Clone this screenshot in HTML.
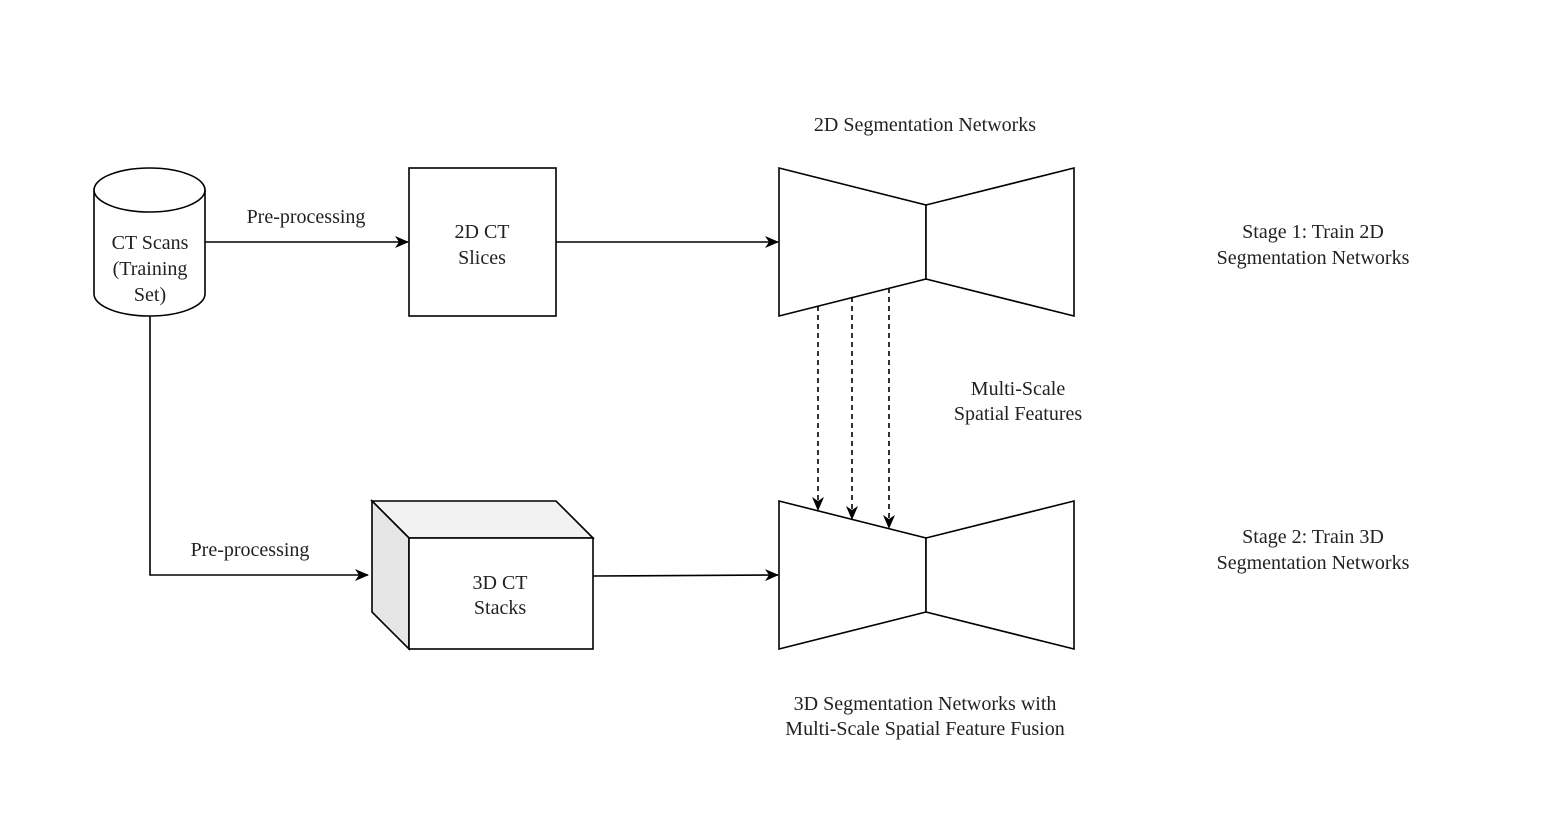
<!DOCTYPE html>
<html><head><meta charset="utf-8"><style>html,body{margin:0;padding:0;background:#fff}svg{display:block}text{font-family:"Liberation Serif",serif;font-size:20px;fill:#222;text-anchor:middle}</style></head><body>
<svg width="1556" height="836" viewBox="0 0 1556 836" xmlns="http://www.w3.org/2000/svg">
<defs><marker id="a" markerWidth="10" markerHeight="10" refX="9" refY="5" orient="auto" markerUnits="userSpaceOnUse"><path d="M0,0 L10,5 L0,10 L3,5 z" fill="#000"/></marker>
<marker id="b" markerWidth="14" markerHeight="12" refX="13" refY="6" orient="auto" markerUnits="userSpaceOnUse"><path d="M0,0 L14,6 L0,12 L4,6 z" fill="#000"/></marker></defs>
<g stroke="#000" stroke-width="1.6" fill="#fff">
<path d="M94,190 L94,294 A55.5,22 0 0 0 205,294 L205,190"/>
<ellipse cx="149.5" cy="190" rx="55.5" ry="22"/>
<rect x="409" y="168" width="147" height="148"/>
<polygon points="779,168 926,205 926,279 779,316"/>
<polygon points="926,205 1074,168 1074,316 926,279"/>
<polygon points="779,501 926,538 926,612 779,649"/>
<polygon points="926,538 1074,501 1074,649 926,612"/>
<polygon points="372,501 556,501 593,538 409,538" fill="#f2f2f2"/>
<polygon points="372,501 409,538 409,649 372,612" fill="#e6e6e6"/>
<rect x="409" y="538" width="184" height="111"/>
</g>
<g stroke="#000" stroke-width="1.6" fill="none">
<line x1="205" y1="242" x2="408" y2="242" marker-end="url(#b)"/>
<line x1="556" y1="242" x2="778" y2="242" marker-end="url(#b)"/>
<polyline points="150,316 150,575 368,575" marker-end="url(#b)"/>
<line x1="593" y1="576" x2="778" y2="575" marker-end="url(#b)"/>
<g stroke-dasharray="5,4"><line x1="818" y1="306" x2="818" y2="510" marker-end="url(#b)"/>
<line x1="852" y1="297" x2="852" y2="519" marker-end="url(#b)"/>
<line x1="889" y1="288" x2="889" y2="528" marker-end="url(#b)"/></g>
</g>
<text x="150" y="249">CT Scans</text><text x="150" y="275">(Training</text><text x="150" y="301">Set)</text>
<text x="306" y="223">Pre-processing</text>
<text x="250" y="556">Pre-processing</text>
<text x="482" y="238">2D CT</text><text x="482" y="264">Slices</text>
<text x="500" y="589">3D CT</text><text x="500" y="614">Stacks</text>
<text x="925" y="131">2D Segmentation Networks</text>
<text x="1018" y="395">Multi-Scale</text><text x="1018" y="420">Spatial Features</text>
<text x="925" y="710">3D Segmentation Networks with</text><text x="925" y="735">Multi-Scale Spatial Feature Fusion</text>
<text x="1313" y="238">Stage 1: Train 2D</text><text x="1313" y="264">Segmentation Networks</text>
<text x="1313" y="543">Stage 2: Train 3D</text><text x="1313" y="569">Segmentation Networks</text>
</svg>
</body></html>
